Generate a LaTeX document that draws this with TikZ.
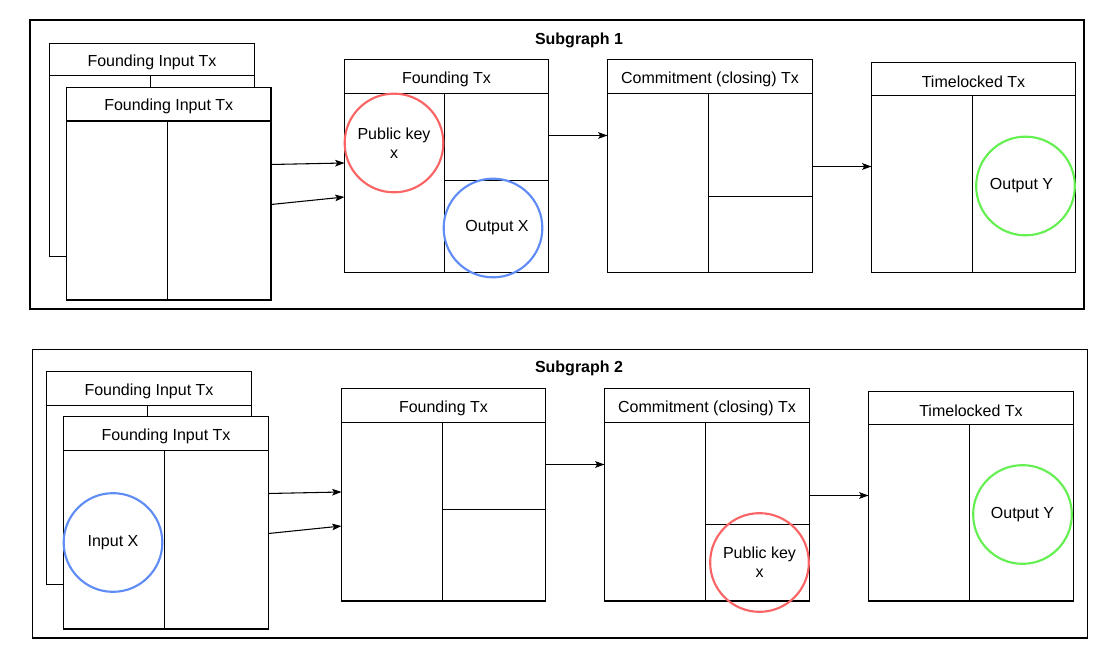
\documentclass[tikz,border=0pt]{standalone}
\usepackage{fontspec}
\setmainfont{Liberation Sans}
\usetikzlibrary{fit,arrows.meta}
\definecolor{cred}{RGB}{250,100,100}
\definecolor{cblue}{RGB}{95,140,245}
\definecolor{cgreen}{RGB}{100,240,80}
\tikzset{
  thinline/.style={line width=0.8pt,draw=black},
  txframe/.style={thinline,fill=white,inner sep=0pt,outer sep=0pt},
  txtitle/.style={font=\fontsize{12pt}{14pt}\selectfont,inner sep=0pt,yshift=-1.8pt},
  groupframe/.style={thinline,inner sep=0pt},
  grouptitle/.style={font=\fontsize{12pt}{14pt}\selectfont\bfseries,inner sep=0pt,yshift=-0.8pt},
  ring/.style={circle,line width=1.6pt,minimum size=74pt,inner sep=0pt,align=center,
    font=\fontsize{12pt}{14pt}\selectfont},
  arr/.style={thinline,-{Stealth[length=7pt,width=5pt,inset=1.5pt]}}
}
\newcommand{\txbox}[7]{%
  \coordinate (#1-nw) at (#2,#3);
  \coordinate (#1-se) at (#4,#5);
  \node[txframe,fit=(#1-nw)(#1-se)] (#1) {};
  \draw[thinline] (#2,#6) -- (#4,#6);
  \node[txtitle] (#1-title) at ({(#2+#4)/2},{(#3+#6)/2}) {#7};
}
\begin{document}
\begin{tikzpicture}[x=0.75pt,y=-0.75pt]
\useasboundingbox (0,0) rectangle (1114,655);
\fill[white] (0,0) rectangle (1114,655);

% ---------------- Subgraph 1 ----------------
\coordinate (g1-nw) at (30,20);
\coordinate (g1-se) at (1084,309);
\node[groupframe,fit=(g1-nw)(g1-se)] (g1) {};
\node[grouptitle] (g1-title) at (579,39) {Subgraph 1};

\txbox{fib1}{49.5}{43.5}{254.5}{256.5}{75.5}{Founding Input Tx}
\draw[thinline] (150.5,75.5) -- (150.5,256.5);
\txbox{fif1}{66.5}{87.5}{271}{300}{121}{Founding Input Tx}
\draw[thinline] (167.5,121) -- (167.5,300);

\txbox{ft1}{344.5}{59.5}{548.5}{272.5}{93.5}{Founding Tx}
\draw[thinline] (444.5,93.5) -- (444.5,272.5);
\draw[thinline] (444.5,180.5) -- (548.5,180.5);

\txbox{ct1}{607.5}{59.5}{812.5}{272.5}{93.5}{Commitment (closing) Tx}
\draw[thinline] (708.5,93.5) -- (708.5,272.5);
\draw[thinline] (708.5,196.5) -- (812.5,196.5);

\txbox{tl1}{871.5}{62.5}{1075.5}{272.5}{95.5}{Timelocked Tx}
\draw[thinline] (972.5,95.5) -- (972.5,272.5);

\node[ring,draw=cred] (pk1) at (394,143) {Public key\\x};
\node[ring,draw=cblue] (ox1) at (493,228) {\hspace{6pt}Output X};
\node[ring,draw=cgreen] (oy1) at (1025.5,186) {Output Y\hspace{6pt}};

\draw[arr] (fif1.east |- 0,164.5) -- (ft1.west |- 0,163);
\draw[arr] (fif1.east |- 0,204.5) -- (ft1.west |- 0,197);
\draw[arr] (ft1.east |- 0,135.5) -- (ct1.west |- 0,135.5);
\draw[arr] (ct1.east |- 0,166.5) -- (tl1.west |- 0,166.5);

% ---------------- Subgraph 2 ----------------
\coordinate (g2-nw) at (32.5,349.5);
\coordinate (g2-se) at (1087.5,638);
\node[groupframe,fit=(g2-nw)(g2-se)] (g2) {};
\node[grouptitle] (g2-title) at (579,367) {Subgraph 2};

\txbox{fib2}{46.5}{371.5}{251.5}{584.5}{405.5}{Founding Input Tx}
\draw[thinline] (147.5,405.5) -- (147.5,584.5);
\txbox{fif2}{63.5}{416.5}{268.5}{629}{450.5}{Founding Input Tx}
\draw[thinline] (164.5,450.5) -- (164.5,629);

\txbox{ft2}{341.5}{388.5}{545.5}{601}{422.5}{Founding Tx}
\draw[thinline] (442.5,422.5) -- (442.5,601);
\draw[thinline] (442.5,509.5) -- (545.5,509.5);

\txbox{ct2}{604.5}{388.5}{809.5}{601}{422.5}{Commitment (closing) Tx}
\draw[thinline] (705.5,422.5) -- (705.5,601);
\draw[thinline] (705.5,524.5) -- (809.5,524.5);

\txbox{tl2}{868.5}{391.5}{1073.5}{601}{424.5}{Timelocked Tx}
\draw[thinline] (969.5,424.5) -- (969.5,601);

\node[ring,draw=cblue] (ix2) at (113,542.5) {Input X};
\node[ring,draw=cred] (pk2) at (759.5,562.5) {Public key\\x};
\node[ring,draw=cgreen] (oy2) at (1022.5,514.5) {\raisebox{-2pt}{Output Y}};

\draw[arr] (fif2.east |- 0,493.5) -- (ft2.west |- 0,492);
\draw[arr] (fif2.east |- 0,533.5) -- (ft2.west |- 0,526);
\draw[arr] (ft2.east |- 0,464.5) -- (ct2.west |- 0,464.5);
\draw[arr] (ct2.east |- 0,495.5) -- (tl2.west |- 0,495.5);
\end{tikzpicture}
\end{document}
